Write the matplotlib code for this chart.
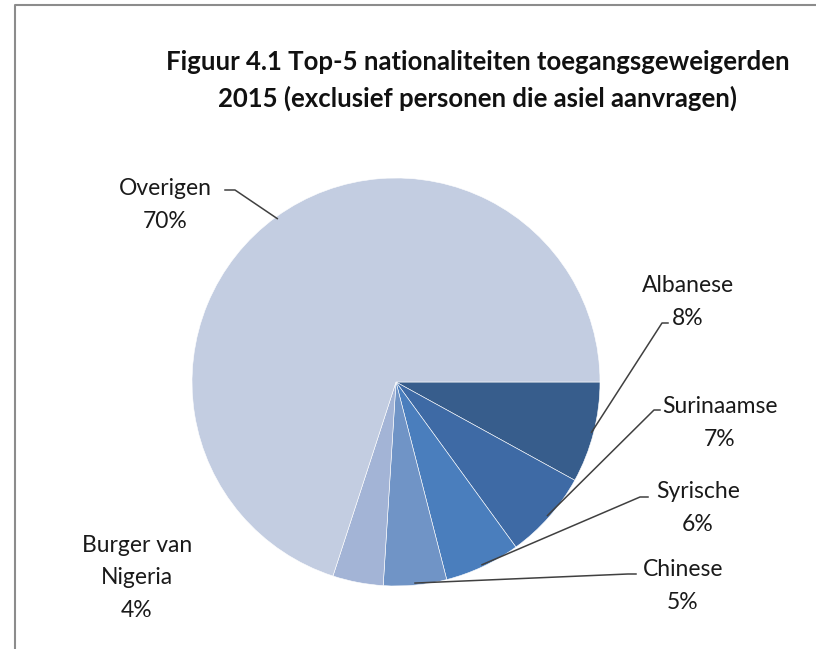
import numpy as np
import matplotlib.pyplot as plt

plt.rcParams['font.family'] = ['Lato', 'DejaVu Sans']

landen = ['Albanese', 'Surinaamse', 'Syrische', 'Chinese', 'Burger van\nNigeria', 'Overigen']
percentages = [8, 7, 6, 5, 4, 70]
kleuren = ['#375d8c', '#3e6aa5', '#4a7ebd', '#7094c6', '#a3b4d6', '#c3cde1']

W, H = 816, 649
CX, CY, R = 396, 382, 204


def px(x, y):
    # pixel positie -> data coordinaten (1 eenheid = straal)
    return (x - CX) / R, (CY - y) / R


fig = plt.figure(figsize=(W / 100, H / 100), dpi=100)
ax = fig.add_axes([0, 0, 1, 1])

wedges, _ = ax.pie(percentages, colors=kleuren, startangle=0, counterclock=False,
                   radius=1, center=(0, 0), frame=True,
                   wedgeprops=dict(edgecolor='white', linewidth=0.4))
ax.set_xlim(-CX / R, (W - CX) / R)
ax.set_ylim(-(H - CY) / R, CY / R)
ax.set_aspect('auto')
ax.axis('off')

# kader
ax.plot(*zip(px(15, H), px(15, 5), px(W, 5)), color='#8c8c8c', lw=1.5, clip_on=False)

fig.text(478 / W, 1 - 62 / H, 'Figuur 4.1 Top-5 nationaliteiten toegangsgeweigerden',
         ha='center', va='center', fontsize=18.5, fontweight='bold', color='#111111')
fig.text(478 / W, 1 - 98 / H, '2015 (exclusief personen die asiel aanvragen)',
         ha='center', va='center', fontsize=18.5, fontweight='bold', color='#111111')

# label posities (pixels) en knikpunt van de verbindingslijn
label_pos = [(688, 302), (720, 423), (698, 508), (683, 586), (137, 578), (165, 205)]
knik = [[(668, 323), (662, 323)], [(660, 410), (654, 410)], [(648, 497), (640, 497)],
        [(636, 574), (628, 574)], None, [(225, 190), (235, 190)]]

for w, naam, pct, pos, k in zip(wedges, landen, percentages, label_pos, knik):
    x, y = px(*pos)
    ax.text(x, y, f'{naam}\n{pct}%', ha='center', va='center', fontsize=16.5,
            linespacing=1.65, color='#1a1a1a')
    if k is None:
        continue
    hoek = np.deg2rad((w.theta1 + w.theta2) / 2)
    ex, ey = np.cos(hoek) * 0.99, np.sin(hoek) * 0.99
    p1, p2 = px(*k[0]), px(*k[1])
    ax.plot([p1[0], p2[0], ex], [p1[1], p2[1], ey], color='#404040', lw=1.1)

fig.savefig('out.png', dpi=100)
